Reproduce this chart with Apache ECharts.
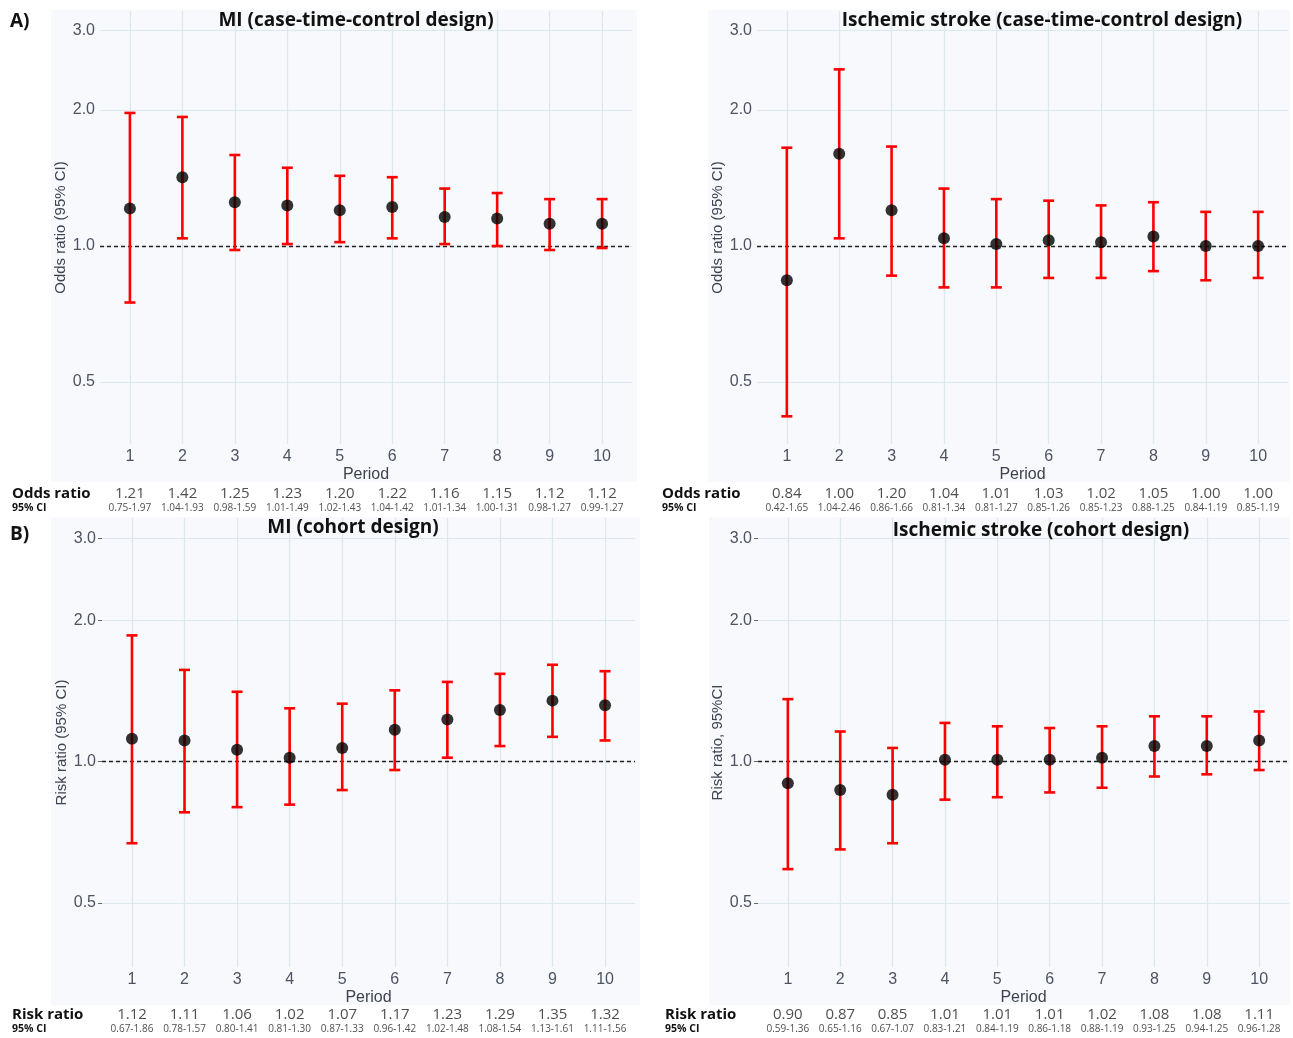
<!DOCTYPE html>
<html>
<head>
<meta charset="utf-8">
<script src="https://cdn.jsdelivr.net/npm/echarts@6/dist/echarts.min.js"></script>
<style>
html,body{margin:0;padding:0;background:#fff;}
#chart{width:1293px;height:1038px;}
</style>
</head>
<body>
<div id="chart"></div>
<script>
// ---------- data ----------
const periods = [1, 2, 3, 4, 5, 6, 7, 8, 9, 10];
const yTicks = [0.5, 1.0, 2.0, 3.0];

// A) MI case-time-control
const miCtcEst = [1.21, 1.42, 1.25, 1.23, 1.20, 1.22, 1.16, 1.15, 1.12, 1.12];
const miCtcLo  = [0.75, 1.04, 0.98, 1.01, 1.02, 1.04, 1.01, 1.00, 0.98, 0.99];
const miCtcHi  = [1.97, 1.93, 1.59, 1.49, 1.43, 1.42, 1.34, 1.31, 1.27, 1.27];
const miCtcTab = ['1.21', '1.42', '1.25', '1.23', '1.20', '1.22', '1.16', '1.15', '1.12', '1.12'];

// A) Ischemic stroke case-time-control
const isCtcEst = [0.84, 1.60, 1.20, 1.04, 1.01, 1.03, 1.02, 1.05, 1.00, 1.00];
const isCtcLo  = [0.42, 1.04, 0.86, 0.81, 0.81, 0.85, 0.85, 0.88, 0.84, 0.85];
const isCtcHi  = [1.65, 2.46, 1.66, 1.34, 1.27, 1.26, 1.23, 1.25, 1.19, 1.19];
const isCtcTab = ['0.84', '1.00', '1.20', '1.04', '1.01', '1.03', '1.02', '1.05', '1.00', '1.00'];

// B) MI cohort
const miCohEst = [1.12, 1.11, 1.06, 1.02, 1.07, 1.17, 1.23, 1.29, 1.35, 1.32];
const miCohLo  = [0.67, 0.78, 0.80, 0.81, 0.87, 0.96, 1.02, 1.08, 1.13, 1.11];
const miCohHi  = [1.86, 1.57, 1.41, 1.30, 1.33, 1.42, 1.48, 1.54, 1.61, 1.56];
const miCohTab = ['1.12', '1.11', '1.06', '1.02', '1.07', '1.17', '1.23', '1.29', '1.35', '1.32'];

// B) Ischemic stroke cohort
const isCohEst = [0.90, 0.87, 0.85, 1.01, 1.01, 1.01, 1.02, 1.08, 1.08, 1.11];
const isCohLo  = [0.59, 0.65, 0.67, 0.83, 0.84, 0.86, 0.88, 0.93, 0.94, 0.96];
const isCohHi  = [1.36, 1.16, 1.07, 1.21, 1.19, 1.18, 1.19, 1.25, 1.25, 1.28];
const isCohTab = ['0.90', '0.87', '0.85', '1.01', '1.01', '1.01', '1.02', '1.08', '1.08', '1.11'];

const titles = [
  'MI (case-time-control design)',
  'Ischemic stroke (case-time-control design)',
  'MI (cohort design)',
  'Ischemic stroke (cohort design)'
];
const yNames = ['Odds ratio (95% CI)', 'Odds ratio (95% CI)', 'Risk ratio (95% CI)', 'Risk ratio, 95%CI'];
const rowNames = [['Odds ratio', '95% CI'], ['Odds ratio', '95% CI'], ['Risk ratio', '95% CI'], ['Risk ratio', '95% CI']];

// ---------- layout ----------
const panels = [
  {est: miCtcEst, lo: miCtcLo, hi: miCtcHi, tab: miCtcTab, left: 100, width: 532, top: 11, height: 433, tTop: 486, rowX: 12, ticks: false,
   bg: [51, 10, 586, 472], title: [356, 21]},
  {est: isCtcEst, lo: isCtcLo, hi: isCtcHi, tab: isCtcTab, left: 757, width: 531, top: 11, height: 433, tTop: 486, rowX: 662, ticks: false,
   bg: [708, 10, 582, 472], title: [1042, 21]},
  {est: miCohEst, lo: miCohLo, hi: miCohHi, tab: miCohTab, left: 102, width: 533, top: 518, height: 449, tTop: 1007, rowX: 12, ticks: true,
   bg: [51, 517, 589, 488], title: [353, 528]},
  {est: isCohEst, lo: isCohLo, hi: isCohHi, tab: isCohTab, left: 758, width: 531, top: 518, height: 449, tTop: 1007, rowX: 665, ticks: true,
   bg: [709, 517, 581, 488], title: [1041, 531]}
];

const XMIN = 0.43, XMAX = 10.57;
const YMIN = -0.438, YMAX = 0.520;
const lg = v => Math.log10(v);
const axisColor = '#4e5361';
const gridColor = '#dce8ec';
const sansFont = '"Liberation Sans", Arial, sans-serif';
const boldFont = '"Open Sans", "Noto Sans", sans-serif';

const grid = [], xAxis = [], yAxis = [], series = [], graphic = [];

panels.forEach((p, i) => {
  graphic.push({type: 'rect', shape: {x: p.bg[0], y: p.bg[1], width: p.bg[2], height: p.bg[3]},
    style: {fill: '#f7f9fc'}, z: -10, silent: true});
  graphic.push({type: 'text', x: p.title[0], y: p.title[1], z: 50,
    style: {text: titles[i], font: 'bold 19px ' + boldFont, fill: '#111', align: 'center', verticalAlign: 'middle'}});

  // main plot grid
  grid.push({left: p.left, top: p.top, width: p.width, height: p.height});
  xAxis.push({
    type: 'value', gridIndex: 2 * i, min: XMIN, max: XMAX,
    name: 'Period', nameLocation: 'middle', nameGap: 23,
    nameTextStyle: {fontFamily: sansFont, fontSize: 16, color: '#3f4350'},
    axisLine: {show: false},
    axisTick: {show: false, customValues: periods},
    axisLabel: {customValues: periods, fontFamily: sansFont, fontSize: 16, color: axisColor, margin: 5},
    splitLine: {show: true, lineStyle: {color: gridColor, width: 1.2}}
  });
  yAxis.push({
    type: 'value', gridIndex: 2 * i, min: YMIN, max: YMAX,
    name: yNames[i], nameLocation: 'middle', nameGap: 28,
    nameTextStyle: {fontFamily: sansFont, fontSize: 15, color: '#3f4350'},
    axisLine: {show: false},
    axisTick: {show: p.ticks, customValues: yTicks.map(lg), length: 4, lineStyle: {color: '#666'}},
    axisLabel: {customValues: yTicks.map(lg), fontFamily: sansFont, fontSize: 16, color: axisColor,
      margin: p.ticks ? 6 : 5, formatter: v => Math.pow(10, v).toFixed(1)},
    splitLine: {show: true, lineStyle: {color: gridColor, width: 1.2}}
  });

  // table grid
  grid.push({left: p.left, top: p.tTop, width: p.width, height: 30});
  xAxis.push({type: 'value', gridIndex: 2 * i + 1, min: XMIN, max: XMAX, show: false});
  yAxis.push({
    type: 'category', gridIndex: 2 * i + 1, data: rowNames[i], inverse: true,
    axisLine: {show: false}, axisTick: {show: false}, splitLine: {show: false},
    axisLabel: {
      interval: 0, hideOverlap: false,
      align: 'left', margin: p.left - p.rowX,
      formatter: (v, idx) => idx === 0 ? '{a|' + v + '}' : '{b|' + v + '}',
      rich: {
        a: {fontSize: 15, fontWeight: 'bold', fontFamily: boldFont, color: '#111'},
        b: {fontSize: 10.5, fontWeight: 'bold', fontFamily: boldFont, color: '#111'}
      }
    }
  });

  // error bars
  series.push({
    type: 'custom', xAxisIndex: 2 * i, yAxisIndex: 2 * i, z: 3,
    data: periods.map((x, k) => [x, lg(p.lo[k]), lg(p.hi[k])]),
    renderItem: (params, api) => {
      const x = api.value(0);
      const a = api.coord([x, api.value(1)]);
      const b = api.coord([x, api.value(2)]);
      const w = 5.5;
      const st = {stroke: '#ff0000', lineWidth: 2.6};
      return {type: 'group', children: [
        {type: 'line', shape: {x1: a[0], y1: a[1], x2: b[0], y2: b[1]}, style: st},
        {type: 'line', shape: {x1: a[0] - w, y1: a[1], x2: a[0] + w, y2: a[1]}, style: st},
        {type: 'line', shape: {x1: b[0] - w, y1: b[1], x2: b[0] + w, y2: b[1]}, style: st}
      ]};
    },
    silent: true
  });
  // points + reference line
  series.push({
    type: 'scatter', xAxisIndex: 2 * i, yAxisIndex: 2 * i, z: 4,
    symbolSize: 12, itemStyle: {color: '#000'},
    data: periods.map((x, k) => [x, lg(p.est[k])]),
    markLine: {
      silent: true, symbol: 'none', label: {show: false}, z: 2,
      lineStyle: {type: [4, 3], color: '#222', width: 1.3},
      data: [{yAxis: 0}]
    }
  });
  // table values
  const tabData = [];
  periods.forEach((x, k) => {
    tabData.push({value: [x, 0], label: {formatter: p.tab[k], fontSize: 15, fontFamily: boldFont, color: '#222'}});
    tabData.push({value: [x, 1], label: {formatter: p.lo[k].toFixed(2) + '-' + p.hi[k].toFixed(2), fontSize: 10, fontFamily: boldFont, color: '#222'}});
  });
  series.push({
    type: 'scatter', xAxisIndex: 2 * i + 1, yAxisIndex: 2 * i + 1, symbolSize: 0, silent: true,
    clip: false,
    label: {show: true, position: 'inside'},
    data: tabData
  });
});

graphic.push({type: 'text', x: 10, y: 22, style: {text: 'A)', font: 'bold 19px ' + boldFont, fill: '#111', verticalAlign: 'middle'}});
graphic.push({type: 'text', x: 10, y: 535, style: {text: 'B)', font: 'bold 19px ' + boldFont, fill: '#111', verticalAlign: 'middle'}});

const chart = echarts.init(document.getElementById('chart'), null, {renderer: 'canvas'});
chart.setOption({
  animation: false,
  backgroundColor: '#ffffff',
  grid, xAxis, yAxis, series, graphic
});
</script>
</body>
</html>
